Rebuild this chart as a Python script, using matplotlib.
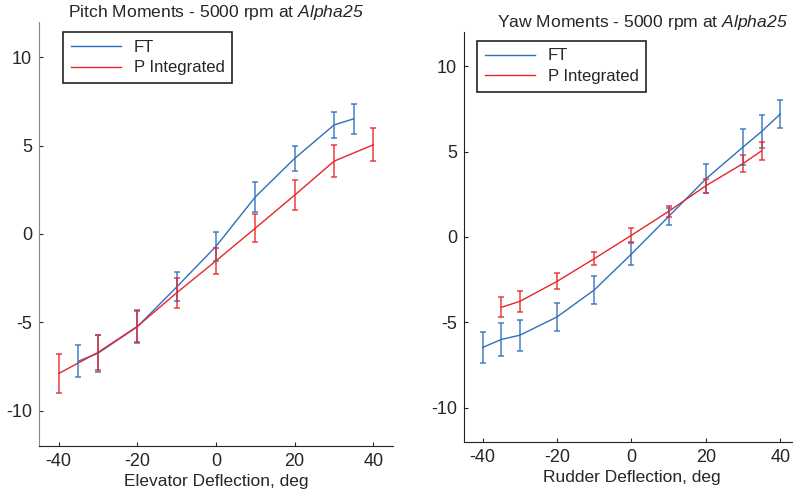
import matplotlib
matplotlib.use('Agg')
import matplotlib.pyplot as plt

plt.rcParams['font.family'] = ['Liberation Sans', 'DejaVu Sans']
# the only mathtext is the italic "Alpha25", digits included
plt.rcParams['mathtext.fontset'] = 'custom'
plt.rcParams['mathtext.rm'] = 'Liberation Sans:italic'
plt.rcParams['mathtext.it'] = 'Liberation Sans:italic'
plt.rcParams['axes.unicode_minus'] = False
plt.rcParams['text.color'] = '#262626'
plt.rcParams['axes.labelcolor'] = '#262626'
plt.rcParams['xtick.color'] = '#262626'
plt.rcParams['ytick.color'] = '#262626'

# pitch moments (elevator)
pitch_ft_x = [-35, -30, -20, -10, 0, 10, 20, 30, 35]
pitch_ft_y = [-7.2, -6.75, -5.25, -3.0, -0.7, 2.1, 4.28, 6.17, 6.52]
pitch_ft_err = [0.9, 1.05, 0.9, 0.82, 0.82, 0.85, 0.7, 0.72, 0.85]
pitch_p_x = [-40, -30, -20, -10, 0, 10, 20, 30, 40]
pitch_p_y = [-7.9, -6.7, -5.23, -3.33, -1.52, 0.33, 2.2, 4.12, 5.05]
pitch_p_err = [1.1, 1.0, 0.9, 0.85, 0.75, 0.8, 0.85, 0.9, 0.93]

# yaw moments (rudder)
yaw_ft_x = [-40, -35, -30, -20, -10, 0, 10, 20, 30, 35, 40]
yaw_ft_y = [-6.47, -6.0, -5.75, -4.68, -3.1, -1.0, 1.2, 3.4, 5.27, 6.18, 7.2]
yaw_ft_err = [0.92, 0.95, 0.9, 0.82, 0.82, 0.62, 0.5, 0.85, 1.03, 0.95, 0.84]
yaw_p_x = [-35, -30, -20, -10, 0, 10, 20, 30, 35]
yaw_p_y = [-4.12, -3.77, -2.6, -1.27, 0.1, 1.5, 3.0, 4.3, 5.05]
yaw_p_err = [0.58, 0.6, 0.47, 0.39, 0.4, 0.32, 0.42, 0.47, 0.53]

blue = '#2f6fbd'
red = '#e8252b'

fig = plt.figure(figsize=(7.93, 4.94), dpi=100)
ax1 = fig.add_axes([0.0492, 0.0972, 0.4464, 0.8583])
ax2 = fig.add_axes([0.5851, 0.1053, 0.4224, 0.830])


def draw(ax, fx, fy, fe, px, py, pe, spine_col):
    ax.plot(fx, fy, '-', color=blue, lw=1, label='FT')
    ax.plot(px, py, '-', color=red, lw=1, label='P Integrated')
    ax.errorbar(fx, fy, yerr=fe, fmt='none', ecolor=blue, elinewidth=1.3,
                capsize=2, capthick=1.3, alpha=0.75)
    ax.errorbar(px, py, yerr=pe, fmt='none', ecolor=red, elinewidth=1.3,
                capsize=2, capthick=1.3, alpha=0.75)
    ax.set_xlim(-45, 45)
    ax.set_ylim(-12, 12)
    ax.set_xticks([-40, -20, 0, 20, 40])
    ax.set_yticks([-10, -5, 0, 5, 10])
    ax.spines['top'].set_visible(False)
    ax.spines['right'].set_visible(False)
    ax.spines['left'].set_color(spine_col)
    ax.spines['bottom'].set_color('#222222')
    ax.tick_params(direction='in', length=3, width=0.8, labelsize=13, pad=5)


draw(ax1, pitch_ft_x, pitch_ft_y, pitch_ft_err, pitch_p_x, pitch_p_y, pitch_p_err, '#888888')
draw(ax2, yaw_ft_x, yaw_ft_y, yaw_ft_err, yaw_p_x, yaw_p_y, yaw_p_err, '#222222')

ax1.set_title('Pitch Moments - 5000 rpm at $Alpha25$', fontsize=12.6, pad=3)
ax2.set_title('Yaw Moments - 5000 rpm at $Alpha25$', fontsize=12.6, pad=3, x=0.534)
ax1.set_xlabel('Elevator Deflection, deg', fontsize=12.5, labelpad=3)
ax2.set_xlabel('Rudder Deflection, deg', fontsize=12.5, labelpad=3)

for ax, bx, by in [(ax1, 0.068, 0.976), (ax2, 0.039, 0.978)]:
    leg = ax.legend(loc='upper left', bbox_to_anchor=(bx, by), fontsize=12,
                    fancybox=False, framealpha=1, edgecolor='#222222',
                    handlelength=3.0, borderaxespad=0, borderpad=0.45,
                    labelspacing=0.35)
    leg.get_frame().set_linewidth(1.2)

fig.savefig('out.png', dpi=100)
